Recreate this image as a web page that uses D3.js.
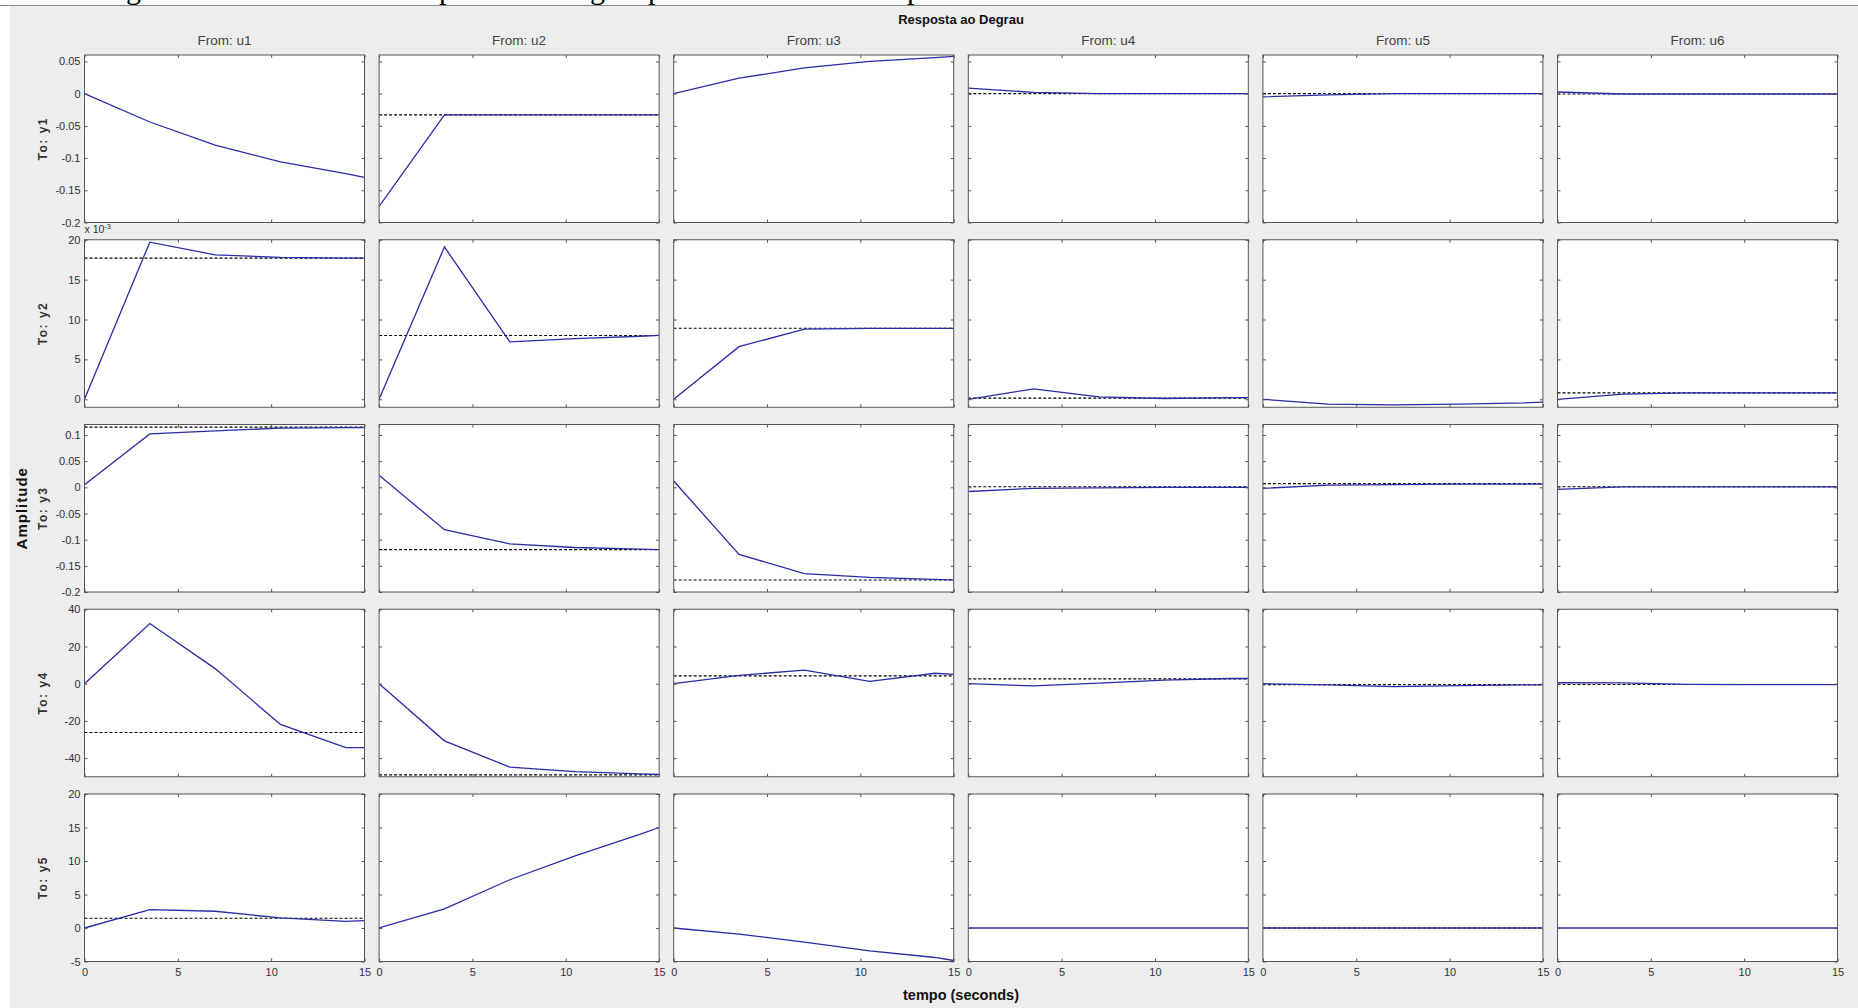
<!DOCTYPE html>
<html><head><meta charset="utf-8">
<script src="https://cdn.jsdelivr.net/npm/d3@7"></script>
<style>
html,body{margin:0;padding:0;background:#fff;overflow:hidden;}
svg{display:block;}
</style></head><body>
<svg id="chart" width="1858" height="1008"></svg>
<script>
// ---------- data ----------
const inputs  = ["u1","u2","u3","u4","u5","u6"];
const outputs = ["y1","y2","y3","y4","y5"];
const time    = [0, 3.5, 7, 10.5, 14, 15];
const xTicks  = [0, 5, 10, 15];

// step responses: one array per input (column) for each output (row)
const y1Resp = [
  [0, -0.044, -0.08, -0.106, -0.124, -0.13],
  [-0.175, -0.033, -0.033, -0.033, -0.033, -0.033],
  [0, 0.024, 0.04, 0.05, 0.056, 0.058],
  [0.0085, 0.002, 0, 0, 0, 0],
  [-0.005, -0.002, 0, 0, 0, 0],
  [0.0026, -0.0005, -0.0005, -0.0005, -0.0005, -0.0005]
];
const y2Resp = [ // x 10^-3
  [0, 19.7, 18.1, 17.8, 17.7, 17.7],
  [0, 19.1, 7.2, 7.6, 7.9, 8.0],
  [0, 6.6, 8.8, 8.9, 8.9, 8.9],
  [0, 1.3, 0.3, 0.1, 0.2, 0.2],
  [0, -0.6, -0.7, -0.6, -0.45, -0.35],
  [0, 0.65, 0.8, 0.8, 0.8, 0.8]
];
const y3Resp = [
  [0.005, 0.102, 0.108, 0.113, 0.114, 0.114],
  [0.023, -0.081, -0.108, -0.115, -0.118, -0.119],
  [0.012, -0.128, -0.165, -0.172, -0.176, -0.177],
  [-0.008, -0.002, -0.001, 0, 0, 0],
  [-0.002, 0.004, 0.005, 0.006, 0.006, 0.006],
  [-0.004, 0.001, 0.001, 0.001, 0.001, 0.001]
];
const y4Resp = [
  [0, 32.3, 8.1, -21.9, -34.3, -34.3],
  [0, -30.7, -44.8, -47.3, -48.5, -48.8],
  [0, 4.5, 7.3, 1.2, 5.6, 5.0],
  [0, -1.2, 0.3, 1.9, 2.8, 2.8],
  [0, -0.6, -1.6, -1.0, -0.6, -0.6],
  [0.5, 0.4, -0.4, -0.5, -0.5, -0.5]
];
const y5Resp = [
  [0, 2.75, 2.5, 1.5, 1.0, 1.1],
  [0, 2.85, 7.2, 10.75, 14, 15],
  [0, -0.9, -2.1, -3.4, -4.4, -4.85],
  [0, 0, 0, 0, 0, 0],
  [0, 0, 0, 0, 0, 0],
  [0, 0, 0, 0, 0, 0]
];

// steady-state (dotted) levels, null where not shown
const y1Final = [null, -0.033, null, 0, 0, -0.0005];
const y2Final = [17.7, 8.0, 8.9, 0.15, null, 0.8];
const y3Final = [0.115, -0.119, -0.177, 0.001, 0.007, 0.001];
const y4Final = [-26.2, -49, 4.2, 2.6, -0.5, -0.4];
const y5Final = [1.45, null, null, null, 0, null];

// axis limits and ticks per output row
const y1Domain = [-0.2, 0.06],  y1Ticks = [-0.2, -0.15, -0.1, -0.05, 0, 0.05];
const y2Domain = [-1, 20],      y2Ticks = [0, 5, 10, 15, 20];
const y3Domain = [-0.2, 0.12],  y3Ticks = [-0.2, -0.15, -0.1, -0.05, 0, 0.05, 0.1];
const y4Domain = [-50, 40],     y4Ticks = [-40, -20, 0, 20, 40];
const y5Domain = [-5, 20],      y5Ticks = [-5, 0, 5, 10, 15, 20];

const titleText  = "Resposta ao Degrau";
const xLabelText = "tempo (seconds)";
const yLabelText = "Amplitude";
const headerGlyphs = ["g", "p", "g", "p", "p"];

const rows = [
  {resp: y1Resp, fin: y1Final, dom: y1Domain, ticks: y1Ticks},
  {resp: y2Resp, fin: y2Final, dom: y2Domain, ticks: y2Ticks, exp: "-3"},
  {resp: y3Resp, fin: y3Final, dom: y3Domain, ticks: y3Ticks},
  {resp: y4Resp, fin: y4Final, dom: y4Domain, ticks: y4Ticks},
  {resp: y5Resp, fin: y5Final, dom: y5Domain, ticks: y5Ticks}
];

// ---------- layout ----------
const W = 1858, H = 1008;
const left0 = 84.5, colPitch = 294.6, pw = 280;
const top0 = 55, rowPitch = 184.75, ph = 167.5;
const BG = "#ededed", AX = "#555", TXT = "#333", BLUE = "#2b2ba6";
const FONT = "'Liberation Sans', Arial, Helvetica, sans-serif";

const svg = d3.select("#chart");

// page strip at top with cropped document text
svg.append("rect").attr("x",0).attr("y",0).attr("width",W).attr("height",H).attr("fill","#fff");
const headerX = [126, 439, 590, 648, 907];
svg.append("g").selectAll("text").data(headerGlyphs).join("text")
  .attr("x", (d,i) => headerX[i]).attr("y", -1)
  .attr("font-family", "'Liberation Serif', 'Times New Roman', serif")
  .attr("font-size", 30).attr("fill", "#000").text(d => d);
svg.append("rect").attr("x",10).attr("y",5.5).attr("width",W-10).attr("height",H-5.5).attr("fill",BG);
svg.append("line").attr("x1",0).attr("x2",W).attr("y1",5.5).attr("y2",5.5)
  .attr("stroke","#8a8a8a").attr("stroke-width",1.2);

const x = d3.scaleLinear().domain([0, 15]).range([0, pw]);

const defs = svg.append("defs");
defs.append("clipPath").attr("id","pclip").append("rect")
  .attr("x",0).attr("y",0).attr("width",pw).attr("height",ph);

rows.forEach((row, r) => {
  const y = d3.scaleLinear().domain(row.dom).range([ph, 0]);
  const line = d3.line().x((d,i) => x(time[i])).y(d => y(d));
  inputs.forEach((inp, c) => {
    const g = svg.append("g")
      .attr("transform", `translate(${left0 + c*colPitch},${top0 + r*rowPitch})`);
    g.append("rect").attr("width", pw).attr("height", ph).attr("fill", "#fff");

    const plot = g.append("g").attr("clip-path", "url(#pclip)");
    const f = row.fin[c];
    if (f !== null) {
      plot.append("line")
        .attr("x1", x(0)).attr("x2", x(15)).attr("y1", y(f)).attr("y2", y(f))
        .attr("stroke", "#000").attr("stroke-width", 1.1).attr("stroke-dasharray", "3,2");
    }
    plot.append("path").datum(row.resp[c]).attr("d", line)
      .attr("fill", "none").attr("stroke", BLUE).attr("stroke-width", 1.3);

    // axes with inward ticks on all four sides
    const bottom = d3.axisBottom(x).tickValues(xTicks).tickSizeInner(-3).tickSizeOuter(0).tickPadding(7)
      .tickFormat(r === rows.length-1 ? (d => String(d)) : () => "");
    const top = d3.axisTop(x).tickValues(xTicks).tickSizeInner(-3).tickSizeOuter(0).tickFormat(() => "");
    const leftA = d3.axisLeft(y).tickValues(row.ticks).tickSizeInner(-3).tickSizeOuter(0).tickPadding(4)
      .tickFormat(c === 0 ? (d => String(d)) : () => "");
    const rightA = d3.axisRight(y).tickValues(row.ticks).tickSizeInner(-3).tickSizeOuter(0).tickFormat(() => "");

    [[bottom, `translate(0,${ph})`], [top, "translate(0,0)"],
     [leftA, "translate(0,0)"], [rightA, `translate(${pw},0)`]].forEach(([ax, tr]) => {
      const a = g.append("g").attr("transform", tr).call(ax);
      a.select(".domain").remove();
      a.selectAll("line").attr("stroke", AX);
      a.selectAll("text").attr("font-family", FONT).attr("font-size", 11).attr("fill", TXT);
    });

    g.append("rect").attr("width", pw).attr("height", ph)
      .attr("fill", "none").attr("stroke", AX).attr("stroke-width", 1);

    if (r === 0) {
      svg.append("text").attr("x", left0 + c*colPitch + pw/2).attr("y", 45)
        .attr("text-anchor", "middle").attr("font-family", FONT).attr("font-size", 13.5)
        .attr("fill", "#444").text("From: " + inp);
    }
  });

  // row label
  const cy = top0 + r*rowPitch + ph/2;
  svg.append("text").attr("transform", `translate(42.5,${cy}) rotate(-90)`)
    .attr("text-anchor", "middle").attr("dominant-baseline", "central")
    .attr("font-family", FONT).attr("font-weight", "bold").attr("font-size", 12)
    .attr("letter-spacing", 1.5).attr("fill", TXT).text("To: " + outputs[r]);

  if (row.exp) {
    const t = svg.append("text").attr("x", left0).attr("y", top0 + r*rowPitch - 7)
      .attr("font-family", FONT).attr("font-size", 10.5).attr("fill", TXT);
    t.append("tspan").text("x 10");
    t.append("tspan").attr("dy", -4).attr("font-size", 7.5).text(row.exp);
  }
});

const gridCx = left0 + (5*colPitch + pw)/2;
svg.append("text").attr("x", gridCx).attr("y", 24).attr("text-anchor", "middle")
  .attr("font-family", FONT).attr("font-weight", "bold").attr("font-size", 13)
  .attr("fill", "#111").text(titleText);
svg.append("text").attr("x", gridCx).attr("y", 1000).attr("text-anchor", "middle")
  .attr("font-family", FONT).attr("font-weight", "bold").attr("font-size", 14.5)
  .attr("fill", "#111").text(xLabelText);
svg.append("text").attr("transform", `translate(21,${top0 + 2*rowPitch + ph/2}) rotate(-90)`)
  .attr("text-anchor", "middle").attr("dominant-baseline", "central")
  .attr("font-family", FONT).attr("font-weight", "bold").attr("font-size", 15)
  .attr("letter-spacing", 1).attr("fill", "#111").text(yLabelText);
</script>
</body></html>
